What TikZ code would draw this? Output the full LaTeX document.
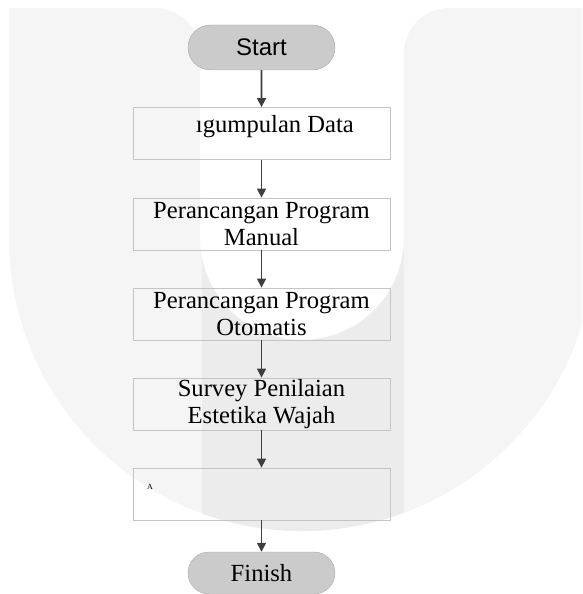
\documentclass[tikz,border=0pt]{standalone}
\usepackage{fontspec}
\setmainfont{Liberation Serif}
\newfontfamily\startfont{Liberation Sans}
\usepackage{tikz}
\usetikzlibrary{arrows.meta,shapes.misc}
\definecolor{wmlight}{HTML}{F5F5F5}
\definecolor{wmdark}{HTML}{ECECEC}
\definecolor{pillgray}{HTML}{CBCBCB}
\definecolor{pillline}{HTML}{A8A8A8}
\definecolor{boxline}{HTML}{C4C4C4}
\definecolor{flowgray}{HTML}{3E3E3E}
\def\watermark{(9,238) -- (9,8) -- (155,8) arc[start angle=-90,end angle=0,radius=45] -- (200,238)
  arc[start angle=180,end angle=0,radius=102] -- (404,53) arc[start angle=180,end angle=270,radius=45]
  -- (595,8) -- (595,238) arc[start angle=0,end angle=180,radius=293] -- cycle}
\tikzset{
  terminal/.style={rounded rectangle,draw=pillline,fill=pillgray,minimum width=147pt,minimum height=45pt,inner sep=0pt},
  procbox/.style={rectangle,draw=boxline,line width=0.8pt,minimum width=257pt,minimum height=52pt,inner sep=0pt,align=center,font=\fontsize{24.6}{27}\selectfont},
  flow/.style={draw=flowgray,line width=1.6pt,-{Triangle[width=9pt,length=9pt]}}
}
\begin{document}
\begin{tikzpicture}[x=1pt,y=-1pt]
    \useasboundingbox (0,0) rectangle (582,594);
    \clip (0,0) rectangle (582,594);
    \fill[wmlight] \watermark;
    \begin{scope}
        \clip \watermark;
        \fill[wmdark] (202,0) rectangle (404,594);
    \end{scope}
    \node[terminal,font=\startfont\fontsize{24}{24}\selectfont] (start) at (261.5,47.5) {Start};
    \node[procbox] (collect) at (261.5,133.5) {};
    \node[anchor=base east,inner sep=0pt,font=\fontsize{24.6}{27}\selectfont] (collectlabel) at (354,132) {ıgumpulan Data};
    \node[procbox] (manual) at (261.5,224) {Perancangan Program\\Manual};
    \node[procbox] (otomatis) at (261.5,314) {Perancangan Program\\Otomatis};
    \node[procbox] (survey) at (261.5,404) {Survey Penilaian\\Estetika Wajah};
    \node[procbox] (hidden) at (261.5,494) {};
    \node[inner sep=0pt,font=\fontsize{8}{8}\selectfont] (stub) at (150,487) {A};
    \node[terminal,minimum height=42pt,font=\fontsize{24.6}{24}\selectfont] (finish) at (261.5,573) {Finish};
    \draw[flow] (start) -- (collect);
    \draw[flow] (collect) -- (manual);
    \draw[flow] (manual) -- (otomatis);
    \draw[flow] (otomatis) -- (survey);
    \draw[flow] (survey) -- (hidden);
    \draw[flow] (hidden) -- (finish);
\end{tikzpicture}
\end{document}
